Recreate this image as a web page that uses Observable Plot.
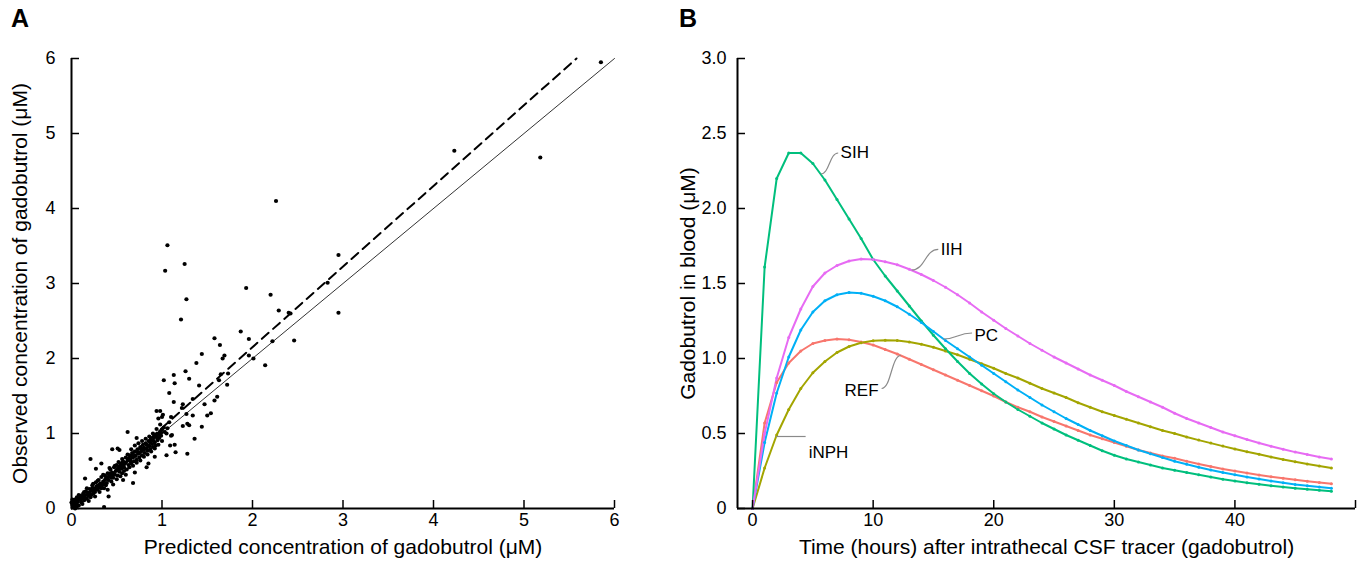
<!DOCTYPE html>
<html>
<head>
<meta charset="utf-8">
<script src="https://cdn.jsdelivr.net/npm/d3@7"></script>
<script src="https://cdn.jsdelivr.net/npm/@observablehq/plot@0.6"></script>
<style>
  body { margin: 0; background: #fff; }
  #wrap { position: relative; width: 1365px; height: 571px; font-family: "Liberation Sans", Arial, sans-serif; }
  .panel { position: absolute; top: 0; }
  .letter { position: absolute; top: 4px; font-size: 25px; font-weight: bold; }
</style>
</head>
<body>
<div id="wrap">
  <div class="panel" id="pa" style="left:0px"></div>
  <div class="panel" id="pb" style="left:680px"></div>
  <div class="letter" style="left:11px">A</div>
  <div class="letter" style="left:679px">B</div>
</div>
<script>
// ---------- Panel A data ----------
const predicted = [
  0.01,0.02,0.03,0.04,0.05,0.06,0.07,0.08,0.09,0.10,0.11,0.12,0.13,0.14,0.15,0.16,0.17,0.18,0.19,0.20,
  0.21,0.22,0.23,0.24,0.25,0.26,0.27,0.28,0.29,0.30,0.31,0.32,0.33,0.34,0.35,0.36,0.37,0.38,0.39,0.40,
  0.41,0.42,0.43,0.44,0.45,0.46,0.47,0.48,0.49,0.50,0.51,0.52,0.53,0.54,0.55,0.56,0.57,0.58,0.59,0.60,
  0.61,0.62,0.63,0.64,0.65,0.66,0.67,0.68,0.69,0.70,0.71,0.72,0.73,0.74,0.75,0.76,0.77,0.78,0.79,0.80,
  0.81,0.82,0.83,0.84,0.85,0.86,0.87,0.88,0.89,0.90,0.91,0.92,0.93,0.94,0.95,0.96,0.97,0.98,0.99,1.00,
  0.03,0.06,0.08,0.12,0.14,0.17,0.19,0.22,0.24,0.26,0.29,0.31,0.33,0.35,0.38,0.40,0.42,0.44,0.46,0.48,
  0.50,0.52,0.54,0.56,0.58,0.60,0.62,0.64,0.66,0.68,0.70,0.72,0.74,0.76,0.78,0.80,0.82,0.84,0.86,0.88,
  0.90,0.92,0.94,0.96,0.98,1.00,1.02,1.05,1.08,1.10,0.62,0.21,0.51,0.68,0.36,0.41,0.33,0.92,0.85,0.45,
  0.53,0.72,0.98,1.01,0.83,0.57,0.15,0.27,0.70,
  0.05,0.10,0.15,0.20,0.25,0.30,0.35,0.40,0.45,0.50,0.55,0.60,0.65,0.70,0.75,0.80,0.85,0.90,0.95,0.99,
  0.07,0.13,0.23,0.28,0.37,0.43,0.47,0.53,0.58,0.63,0.67,0.73,0.77,0.83,0.87,0.93,0.97,1.03,1.06,0.02,
  0.04,0.01,0.00,
  5.85,5.18,4.23,2.26,1.06,1.035,1.25,1.27,1.21,2.95,2.95,1.93,2.20,2.29,2.40,2.46,2.22,1.87,1.96,2.01,
  2.14,1.96,1.58,1.64,1.69,1.67,1.44,1.38,1.26,1.13,1.02,1.14,1.30,1.65,1.73,1.72,1.63,1.41,1.08,1.13,
  1.23,1.34,1.47,1.58,1.61,1.54,1.50,1.22,1.27,1.34,1.44,1.36,1.30,1.28,1.23,1.11,1.09,1.14,1.15,1.28,
  1.05,0.94,0.96,1.00,1.10,2.83,2.42
];
const observed = [
  0.05,0.10,0.02,0.12,0.06,0.15,0.09,0.04,0.13,0.17,0.08,0.14,0.20,0.11,0.18,0.23,0.13,0.21,0.17,0.26,
  0.15,0.24,0.31,0.20,0.27,0.22,0.35,0.30,0.25,0.38,0.28,0.33,0.42,0.31,0.36,0.27,0.44,0.40,0.34,0.47,
  0.38,0.43,0.52,0.36,0.48,0.41,0.55,0.45,0.50,0.58,0.44,0.53,0.49,0.60,0.56,0.47,0.63,0.55,0.60,0.68,
  0.52,0.64,0.58,0.71,0.66,0.60,0.74,0.68,0.63,0.76,0.70,0.65,0.79,0.73,0.68,0.82,0.76,0.71,0.85,0.78,
  0.74,0.87,0.80,0.77,0.90,0.83,0.79,0.92,0.86,0.82,0.95,0.88,0.84,0.97,0.91,1.00,0.94,1.03,0.97,1.05,
  0.07,0.03,0.18,0.06,0.22,0.27,0.10,0.18,0.33,0.16,0.37,0.22,0.27,0.45,0.31,0.25,0.54,0.41,0.32,0.57,
  0.39,0.62,0.43,0.66,0.50,0.45,0.72,0.55,0.79,0.57,0.84,0.61,0.87,0.64,0.90,0.69,0.93,0.72,0.96,0.76,
  1.00,0.80,1.06,0.85,1.12,0.90,1.08,1.00,1.15,0.97,1.02,0.66,0.80,0.34,0.02,0.16,0.60,0.69,0.60,0.79,
  0.78,0.94,1.30,1.25,0.55,0.38,0.40,0.53,0.48,
  0.09,0.12,0.14,0.21,0.24,0.31,0.33,0.41,0.44,0.51,0.53,0.61,0.63,0.71,0.74,0.81,0.84,0.91,0.94,1.01,
  0.13,0.17,0.27,0.26,0.38,0.47,0.46,0.56,0.59,0.66,0.69,0.75,0.79,0.85,0.88,0.96,0.99,1.02,1.07,0.03,
  0.00,0.12,0.08,
  5.95,4.68,4.77,4.10,3.51,3.17,3.26,2.79,2.52,3.38,2.61,2.94,2.85,2.64,2.61,2.24,2.23,2.36,2.26,2.00,
  1.91,2.04,2.27,2.18,2.04,2.00,2.06,1.94,1.83,1.78,1.71,1.67,1.73,1.79,1.80,1.65,1.71,1.64,1.54,1.42,
  1.39,1.46,1.39,1.44,1.49,1.27,1.24,1.34,1.26,1.24,1.09,0.93,1.11,1.13,1.10,0.98,0.84,0.85,0.75,0.73,
  0.71,1.30,1.20,1.22,1.22,3.01,2.60
];
const refLineX = [0, 6];
const refLineY = [0, 6];
const fitLineX = [0, 5.58];
const fitLineY = [0, 6];
const aTicks = [0, 1, 2, 3, 4, 5, 6];

// ---------- Panel B data ----------
const hours = [0,1,2,3,4,5,6,7,8,9,10,11,12,13,14,15,16,17,18,19,20,21,22,23,24,25,26,27,28,29,30,31,32,33,34,35,36,37,38,39,40,41,42,43,44,45,46,47,48];
const groups = ["REF", "iNPH", "SIH", "PC", "IIH"];
const groupColors = ["#F8766D", "#A3A500", "#00BF7D", "#00B0F6", "#E76BF3"];
const REF = [0,0.57,0.84,0.97,1.05,1.10,1.12,1.13,1.125,1.11,1.09,1.06,1.03,0.995,0.96,0.925,0.89,0.855,0.82,0.785,0.75,0.71,0.675,0.645,0.61,0.58,0.55,0.52,0.49,0.465,0.44,0.415,0.39,0.37,0.35,0.335,0.315,0.297,0.28,0.264,0.25,0.236,0.224,0.212,0.201,0.191,0.182,0.173,0.165];
const iNPH = [0,0.27,0.49,0.66,0.80,0.905,0.98,1.04,1.08,1.105,1.118,1.122,1.12,1.11,1.095,1.075,1.05,1.025,0.995,0.965,0.935,0.90,0.87,0.835,0.80,0.77,0.74,0.705,0.675,0.645,0.62,0.595,0.57,0.545,0.52,0.50,0.477,0.456,0.436,0.416,0.397,0.379,0.362,0.344,0.327,0.311,0.296,0.283,0.27];
const SIH = [0,1.61,2.20,2.37,2.37,2.30,2.19,2.06,1.93,1.80,1.66,1.55,1.45,1.35,1.25,1.155,1.065,0.98,0.90,0.83,0.765,0.71,0.66,0.615,0.57,0.53,0.49,0.455,0.42,0.385,0.355,0.33,0.31,0.29,0.27,0.255,0.24,0.225,0.21,0.195,0.183,0.172,0.162,0.152,0.143,0.135,0.128,0.121,0.115];
const PC = [0,0.44,0.77,1.01,1.19,1.31,1.385,1.425,1.44,1.435,1.415,1.385,1.345,1.295,1.24,1.18,1.12,1.065,1.01,0.955,0.90,0.845,0.79,0.74,0.69,0.645,0.60,0.56,0.52,0.485,0.45,0.42,0.39,0.365,0.34,0.315,0.295,0.275,0.257,0.24,0.225,0.21,0.196,0.183,0.171,0.16,0.151,0.143,0.135];
const IIH = [0,0.50,0.87,1.14,1.33,1.48,1.57,1.62,1.65,1.663,1.66,1.645,1.625,1.595,1.56,1.52,1.475,1.425,1.37,1.31,1.255,1.20,1.15,1.10,1.055,1.01,0.97,0.93,0.89,0.855,0.82,0.78,0.745,0.71,0.675,0.635,0.60,0.57,0.54,0.51,0.485,0.46,0.437,0.415,0.395,0.376,0.36,0.344,0.33];
const bXTicks = [0, 10, 20, 30, 40, 50];
const bXTickLabels = [0, 10, 20, 30, 40];
const bYTicks = [0, 0.5, 1.0, 1.5, 2.0, 2.5, 3.0];
// curve annotations: label position and leader (curve point -> label)
const labelNames = ["SIH", "IIH", "PC", "REF", "iNPH"];
const labelX = [7.3, 15.6, 18.4, 10.45, 4.65];
const labelY = [2.37, 1.727, 1.153, 0.787, 0.373];
const labelAnchor = ["start", "start", "start", "end", "start"];
const leaderFromX = [5.65, 13.2, 15.8, 12.3, 1.95];
const leaderFromY = [2.23, 1.59, 1.13, 1.02, 0.48];
const leaderToX = [7.1, 15.4, 18.2, 10.7, 4.4];
const leaderToY = [2.37, 1.727, 1.17, 0.80, 0.48];

const FONT = '"Liberation Sans", Arial, sans-serif';

// ---------- Panel A ----------
const ptsA = predicted.map((p, i) => ({p, o: observed[i]}));
const aPlotW = 680 - 71 - 66, aPlotH = 571 - 58 - 63;
const chartA = Plot.plot({
  width: 680, height: 571,
  marginLeft: 71, marginRight: 66, marginTop: 58, marginBottom: 63,
  x: {domain: [0, 6]},
  y: {domain: [0, 6]},
  style: {fontFamily: FONT, fontSize: "18px", color: "black", background: "transparent", overflow: "visible"},
  marks: [
    Plot.line(refLineX.map((x, i) => ({x, y: refLineY[i]})), {x: "x", y: "y", stroke: "#333", strokeWidth: 1}),
    Plot.line(fitLineX.map((x, i) => ({x, y: fitLineY[i]})), {x: "x", y: "y", stroke: "black", strokeWidth: 2, strokeDasharray: "9,6"}),
    Plot.dot(ptsA, {x: "p", y: "o", r: 2.1, fill: "black", stroke: "none"}),
    Plot.ruleX([0], {stroke: "black", strokeWidth: 2}),
    Plot.ruleY([0], {stroke: "black", strokeWidth: 2}),
    Plot.ruleX(aTicks, {x: d => d, insetTop: aPlotH - 8, stroke: "black", strokeWidth: 1.5}),
    Plot.ruleY(aTicks, {y: d => d, insetRight: aPlotW - 8, stroke: "black", strokeWidth: 1.5}),
    Plot.axisX({ticks: aTicks, tickSize: 0, tickPadding: 5, label: null, fontSize: 18, tickFormat: d => String(d)}),
    Plot.axisY({ticks: aTicks, tickSize: 0, tickPadding: 16, label: null, fontSize: 18, tickFormat: d => String(d)}),
    Plot.text(["Predicted concentration of gadobutrol (\u03BCM)"], {frameAnchor: "bottom", dy: 45, fontSize: 21}),
    Plot.text(["Observed concentration of gadobutrol (\u03BCM)"], {frameAnchor: "left", textAnchor: "middle", rotate: -90, dx: -51, fontSize: 21})
  ]
});
document.getElementById("pa").appendChild(chartA);

// ---------- Panel B ----------
const seriesVals = [REF, iNPH, SIH, PC, IIH];
const curveData = groups.flatMap((g, gi) => hours.map((h, i) => ({h, v: seriesVals[gi][i], g})));
const labels = labelNames.map((n, i) => ({n, x: labelX[i], y: labelY[i], a: labelAnchor[i],
  x1: leaderFromX[i], y1: leaderFromY[i], x2: leaderToX[i], y2: leaderToY[i]}));
const bXDomain = [-1.25, 50];
const bPlotW = 685 - 57 - 10, bPlotH = 571 - 58 - 63;
const chartB = Plot.plot({
  width: 685, height: 571,
  marginLeft: 57, marginRight: 10, marginTop: 58, marginBottom: 63,
  x: {domain: bXDomain},
  y: {domain: [0, 3]},
  color: {domain: groups, range: groupColors},
  style: {fontFamily: FONT, fontSize: "18px", color: "black", background: "transparent", overflow: "visible"},
  marks: [
    Plot.line(curveData, {x: "h", y: "v", z: "g", stroke: "g", strokeWidth: 2}),
    Plot.dot(curveData, {x: "h", y: "v", fill: "g", r: 1.5, stroke: "none"}),
    Plot.link(labels.filter(d => d.a === "start"), {x1: "x1", y1: "y1", x2: "x2", y2: "y2", curve: "bump-x", stroke: "#8a8a8a", strokeWidth: 1.2}),
    Plot.link(labels.filter(d => d.a === "end"), {x1: "x2", y1: "y2", x2: "x1", y2: "y1", curve: "bump-x", stroke: "#8a8a8a", strokeWidth: 1.2}),
    Plot.text(labels.filter(d => d.a === "start"), {x: "x", y: "y", text: "n", textAnchor: "start", fontSize: 17, fill: "black"}),
    Plot.text(labels.filter(d => d.a === "end"), {x: "x", y: "y", text: "n", textAnchor: "end", fontSize: 17, fill: "black"}),
    Plot.ruleX([bXDomain[0]], {stroke: "black", strokeWidth: 2}),
    Plot.ruleY([0], {stroke: "black", strokeWidth: 2}),
    Plot.ruleX(bXTicks, {x: d => d, insetTop: bPlotH - 8, stroke: "black", strokeWidth: 1.5}),
    Plot.ruleY(bYTicks, {y: d => d, insetRight: bPlotW - 8, stroke: "black", strokeWidth: 1.5}),
    Plot.axisX({ticks: bXTickLabels, tickSize: 0, tickPadding: 5, label: null, fontSize: 18, tickFormat: d => String(d)}),
    Plot.axisY({ticks: bYTicks, tickSize: 0, tickPadding: 11, label: null, fontSize: 18,
      tickFormat: d => d === 0 ? "0" : d.toFixed(1)}),
    Plot.text(["Time (hours) after intrathecal CSF tracer (gadobutrol)"], {frameAnchor: "bottom", dy: 45, fontSize: 21}),
    Plot.text(["Gadobutrol in blood (\u03BCM)"], {frameAnchor: "left", textAnchor: "middle", rotate: -90, dx: -49, fontSize: 21})
  ]
});
document.getElementById("pb").appendChild(chartB);
</script>
</body>
</html>
